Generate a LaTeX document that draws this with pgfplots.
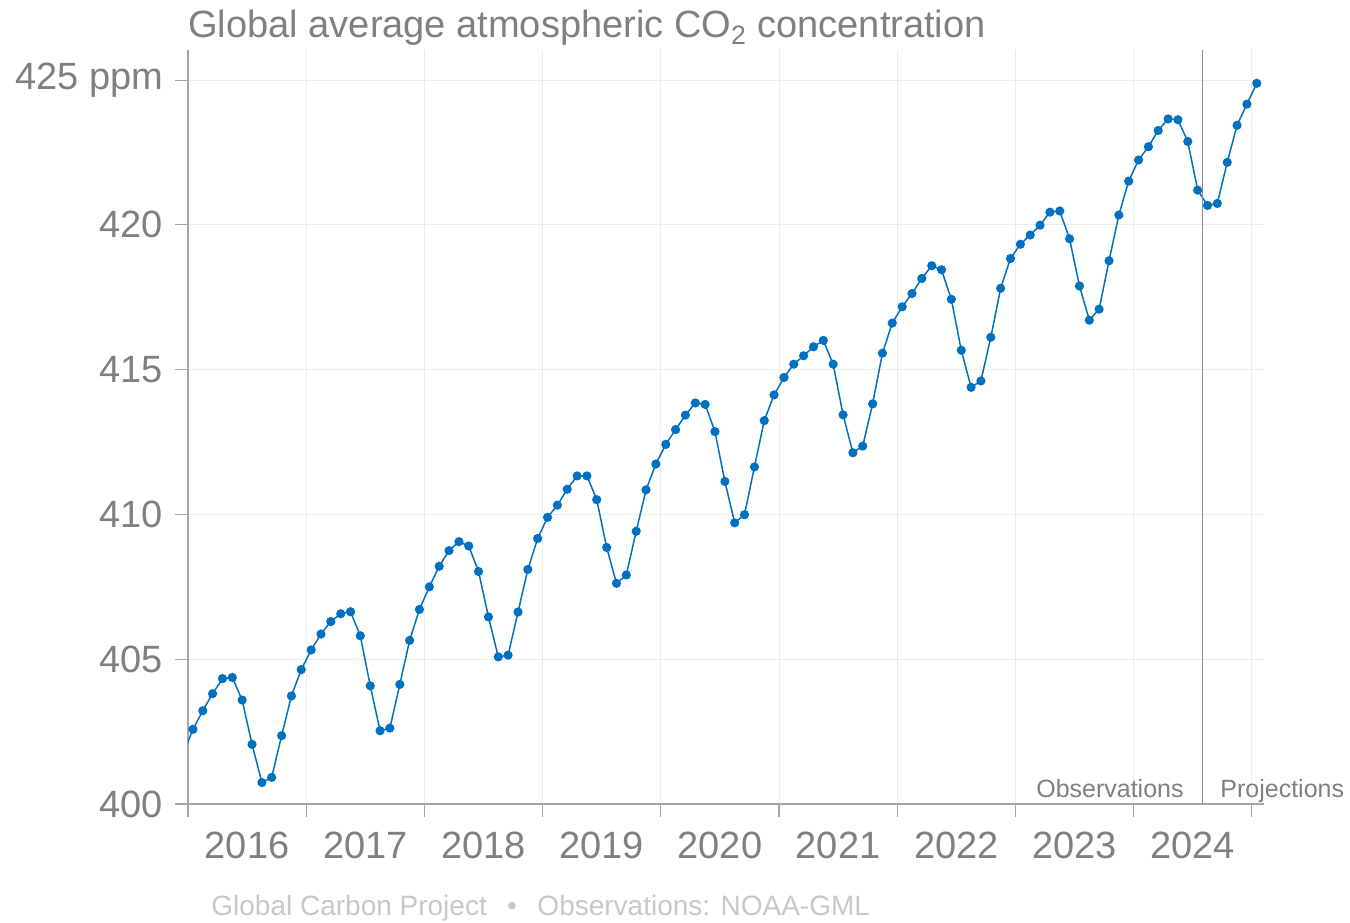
\documentclass[border=0pt]{standalone}
\usepackage{fontspec}
\setmainfont{Liberation Sans}
\usepackage{pgfplots}
\usepackage{pgfplotstable}
\pgfplotsset{compat=1.18}
\definecolor{co2blue}{RGB}{0,113,193}
\definecolor{txtgray}{RGB}{128,128,128}
\definecolor{notegray}{RGB}{200,200,200}
\definecolor{gridgray}{RGB}{236,236,236}
\definecolor{axgray}{RGB}{165,165,165}
\definecolor{splitgray}{RGB}{140,140,140}

% monthly global mean CO2 (ppm), x = mid-month as decimal year
\pgfplotstableread{
date ppm
2015.958 401.74
2016.042 402.58
2016.125 403.22
2016.208 403.81
2016.292 404.33
2016.375 404.37
2016.458 403.59
2016.542 402.06
2016.625 400.74
2016.708 400.92
2016.792 402.36
2016.875 403.73
2016.958 404.64
2017.042 405.32
2017.125 405.87
2017.208 406.30
2017.292 406.57
2017.375 406.64
2017.458 405.81
2017.542 404.08
2017.625 402.53
2017.708 402.62
2017.792 404.13
2017.875 405.65
2017.958 406.72
2018.042 407.50
2018.125 408.21
2018.208 408.75
2018.292 409.06
2018.375 408.91
2018.458 408.03
2018.542 406.46
2018.625 405.08
2018.708 405.14
2018.792 406.63
2018.875 408.10
2018.958 409.17
2019.042 409.90
2019.125 410.32
2019.208 410.87
2019.292 411.33
2019.375 411.33
2019.458 410.51
2019.542 408.86
2019.625 407.62
2019.708 407.91
2019.792 409.42
2019.875 410.85
2019.958 411.74
2020.042 412.42
2020.125 412.93
2020.208 413.43
2020.292 413.85
2020.375 413.80
2020.458 412.86
2020.542 411.14
2020.625 409.71
2020.708 409.99
2020.792 411.64
2020.875 413.24
2020.958 414.13
2021.042 414.73
2021.125 415.19
2021.208 415.48
2021.292 415.79
2021.375 416.01
2021.458 415.19
2021.542 413.44
2021.625 412.13
2021.708 412.36
2021.792 413.82
2021.875 415.57
2021.958 416.61
2022.042 417.17
2022.125 417.63
2022.208 418.15
2022.292 418.59
2022.375 418.45
2022.458 417.43
2022.542 415.67
2022.625 414.39
2022.708 414.61
2022.792 416.12
2022.875 417.81
2022.958 418.84
2023.042 419.33
2023.125 419.65
2023.208 419.99
2023.292 420.44
2023.375 420.48
2023.458 419.52
2023.542 417.89
2023.625 416.71
2023.708 417.09
2023.792 418.76
2023.875 420.34
2023.958 421.51
2024.042 422.24
2024.125 422.70
2024.208 423.26
2024.292 423.66
2024.375 423.63
2024.458 422.88
2024.542 421.20
2024.625 420.67
2024.708 420.74
2024.792 422.16
2024.875 423.44
2024.958 424.17
2025.042 424.89
}\cotwo

\begin{document}
\begin{tikzpicture}
\useasboundingbox (-94bp,-59.5bp) rectangle (581bp,402bp);
\begin{axis}[
    at={(0,0)}, anchor=south west,
    scale only axis,
    width=538bp, height=377bp,
    xmin=2016, xmax=2025.103,
    ymin=400, ymax=426.04,
    axis lines*=left,
    axis line style={axgray, line width=0.6bp},
    xtick={2016,2017,2018,2019,2020,2021,2022,2023,2024,2025},
    x tick label as interval,
    xticklabels={2016,2017,2018,2019,2020,2021,2022,2023,2024},
    ytick={400,405,410,415,420,425},
    yticklabels={400,405,410,415,420,425 ppm},
    grid=major,
    major grid style={gridgray, line width=0.5bp},
    tick align=outside,
    major tick length=6.5bp,
    tick style={axgray, line width=0.6bp},
    ticklabel style={font=\fontsize{19bp}{22bp}\selectfont, text=txtgray},
    xticklabel style={yshift=-4bp},
    yticklabel style={xshift=-2.5bp},
]
\addplot[co2blue, line width=0.75bp, mark=*, mark size=1.9bp,
    mark options={draw=co2blue, fill=co2blue}] table[x=date, y=ppm] {\cotwo};
\draw[splitgray, line width=0.65bp] (axis cs:2024.583,400) -- (axis cs:2024.583,426.04);
\end{axis}
\node[anchor=base west, inner sep=0, text=txtgray, font=\fontsize{19bp}{22bp}\selectfont]
    at (0,383bp) {Global average atmospheric CO\textsubscript{2} concentration};
\node[anchor=base east, inner sep=0, text=txtgray, font=\fontsize{12.5bp}{14bp}\selectfont]
    at (498bp,3.5bp) {Observations};
\node[anchor=base west, inner sep=0, text=txtgray, font=\fontsize{12.5bp}{14bp}\selectfont]
    at (516bp,3.5bp) {Projections};
\node[anchor=base west, inner sep=0, text=notegray, font=\fontsize{14bp}{16bp}\selectfont]
    at (11.5bp,-55.5bp) {Global Carbon Project\hspace{0.73em}\textbullet\hspace{0.73em}Observations: NOAA-GML};
\end{tikzpicture}
\end{document}
